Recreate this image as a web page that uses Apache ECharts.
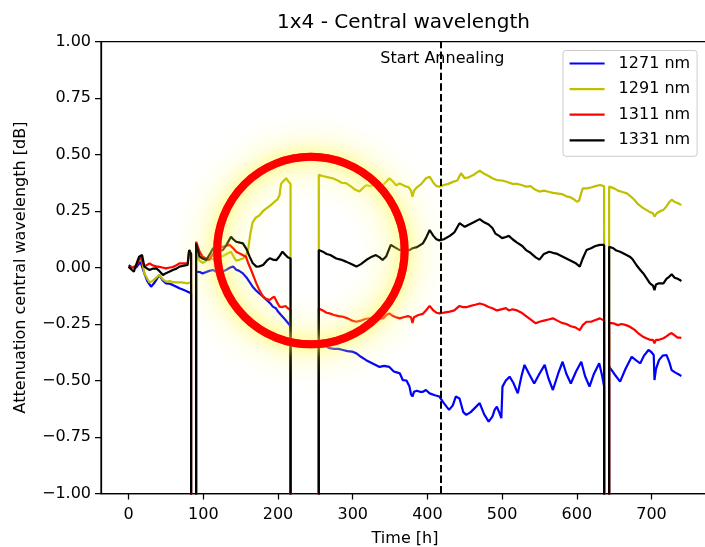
<!DOCTYPE html>
<html>
<head>
<meta charset="utf-8">
<script src="https://cdn.jsdelivr.net/npm/echarts@6/dist/echarts.min.js"></script>
<style>html,body{margin:0;padding:0;background:#fff}#c{width:705px;height:547px}</style>
</head>
<body>
<div id="c"></div>
<script>
const chartTitle = '1x4 - Central wavelength';
const xName = 'Time [h]';
const yName = 'Attenuation central wavelength [dB]';
const seriesNames = ['1271 nm', '1291 nm', '1311 nm', '1331 nm'];
const xTicks = [0, 100, 200, 300, 400, 500, 600, 700];
const annealStart = 418;
const annealLabel = 'Start Annealing';
const annealLabelPos = [420, 0.925];
const highlightCenter = [244, 0.075];
const highlightRadiusH = 125.5;

const s1271 = [[0,0.01],[5,0.0],[10,0.0],[16,0.025],[21,-0.026],[25,-0.06],[30,-0.085],[34,-0.07],[37,-0.055],[41,-0.033],[45,-0.055],[50,-0.07],[55,-0.072],[59,-0.077],[64,-0.085],[68,-0.092],[74,-0.1],[79,-0.107],[83.6,-0.114],[83.6,-1.5],[90.3,-1.5],[90.3,-0.018],[95,-0.02],[99,-0.026],[104,-0.02],[108,-0.015],[113,-0.011],[118,-0.02],[122,-0.015],[126,-0.018],[131,-0.01],[136,0.0],[140,0.004],[144,-0.01],[148,-0.015],[153,-0.026],[158,-0.045],[162,-0.065],[166,-0.085],[170,-0.1],[175,-0.115],[180,-0.129],[185,-0.145],[190,-0.16],[193,-0.173],[197,-0.18],[200,-0.195],[204,-0.21],[208,-0.225],[212,-0.24],[216.8,-0.26],[216.8,-1.5],[254.6,-1.5],[254.6,-0.328],[260,-0.34],[265,-0.35],[269,-0.357],[275,-0.36],[281,-0.36],[287,-0.365],[293,-0.37],[299,-0.372],[305,-0.38],[311,-0.395],[318,-0.41],[324,-0.42],[330,-0.43],[336,-0.44],[342,-0.435],[349,-0.44],[355,-0.46],[360,-0.465],[363,-0.468],[367,-0.498],[372,-0.5],[376,-0.527],[378,-0.56],[380,-0.571],[382,-0.55],[386,-0.545],[390,-0.55],[394,-0.55],[398,-0.542],[403,-0.557],[410,-0.565],[416,-0.571],[422,-0.6],[429,-0.63],[434,-0.61],[438,-0.571],[443,-0.58],[448,-0.64],[452,-0.652],[458,-0.64],[464,-0.62],[470,-0.6],[476,-0.65],[482,-0.682],[487,-0.66],[490,-0.63],[493,-0.616],[496,-0.64],[499,-0.667],[500.5,-0.527],[505,-0.5],[510,-0.483],[515,-0.51],[521,-0.557],[526,-0.48],[530,-0.431],[536,-0.47],[543,-0.513],[550,-0.47],[557,-0.431],[562,-0.49],[568,-0.542],[575,-0.47],[581,-0.417],[586,-0.47],[592,-0.513],[599,-0.46],[606,-0.417],[611,-0.48],[617,-0.527],[623,-0.47],[630,-0.424],[634,-0.48],[636.6,-0.527],[636.6,-1.5],[643.3,-1.5],[643.3,-0.439],[650,-0.47],[658,-0.505],[665,-0.45],[673.5,-0.395],[679,-0.41],[685,-0.424],[690,-0.39],[696,-0.365],[700,-0.375],[703,-0.387],[704,-0.498],[706,-0.45],[710,-0.41],[715,-0.39],[720,-0.387],[724,-0.42],[727,-0.454],[732,-0.465],[738,-0.476],[740,-0.48]];

const s1291 = [[0,0.0],[5,0.0],[10,0.01],[14,0.04],[18,0.03],[21,-0.026],[25,-0.05],[28,-0.066],[32,-0.06],[37,-0.045],[41,-0.033],[45,-0.05],[50,-0.063],[55,-0.06],[60,-0.065],[64,-0.066],[70,-0.066],[75,-0.068],[79,-0.07],[83.6,-0.065],[83.6,-1.5],[90.3,-1.5],[90.3,0.06],[95,0.03],[99,0.02],[104,0.03],[110,0.04],[115,0.035],[120,0.05],[126,0.05],[131,0.06],[137,0.07],[141,0.045],[144,0.03],[149,0.035],[153,0.04],[157,0.05],[160,0.08],[163,0.15],[166,0.2],[170,0.22],[175,0.23],[180,0.25],[184,0.26],[190,0.275],[195,0.29],[199,0.3],[202,0.32],[204,0.37],[208,0.385],[211,0.395],[214,0.38],[216.8,0.37],[216.8,-1.5],[254.6,-1.5],[254.6,0.41],[260,0.405],[266,0.4],[273,0.395],[280,0.385],[285,0.375],[291,0.373],[297,0.36],[303,0.345],[309,0.336],[313,0.35],[318,0.364],[324,0.36],[330,0.37],[336,0.358],[342,0.37],[349,0.395],[354,0.38],[358,0.364],[363,0.372],[370,0.36],[375,0.355],[378,0.34],[380,0.313],[382,0.34],[386,0.355],[392,0.37],[398,0.395],[403,0.402],[408,0.375],[412,0.36],[416,0.358],[422,0.365],[428,0.37],[435,0.38],[440,0.385],[445,0.417],[450,0.395],[456,0.4],[462,0.41],[466,0.42],[470,0.428],[476,0.415],[482,0.405],[487,0.395],[493,0.387],[500,0.385],[507,0.378],[514,0.37],[520,0.37],[526,0.365],[532,0.358],[538,0.36],[544,0.345],[550,0.336],[556,0.34],[562,0.335],[568,0.33],[573,0.328],[580,0.325],[586,0.315],[592,0.31],[597,0.3],[600,0.291],[603,0.295],[606,0.33],[608,0.35],[614,0.35],[620,0.355],[625,0.36],[631,0.365],[636.6,0.36],[636.6,-1.5],[643.3,-1.5],[643.3,0.358],[650,0.35],[655,0.34],[660,0.335],[667,0.328],[672,0.315],[677,0.3],[682,0.28],[688,0.265],[693,0.255],[698,0.245],[702,0.24],[704,0.225],[707,0.24],[712,0.25],[716,0.255],[720,0.27],[724,0.29],[727,0.3],[731,0.29],[735,0.285],[738,0.28],[740,0.277]];

const s1311 = [[0,0.0],[5,0.0],[10,0.005],[16,0.048],[21,0.005],[25,0.012],[28,0.018],[32,0.01],[37,0.005],[41,0.003],[45,0.0],[50,-0.004],[55,0.0],[59,0.002],[64,0.01],[68,0.018],[74,0.018],[79,0.018],[81,0.077],[83.6,0.06],[83.6,-1.5],[90.3,-1.5],[90.3,0.114],[95,0.07],[99,0.048],[104,0.04],[108,0.033],[113,0.06],[117,0.077],[121,0.085],[126,0.092],[130,0.095],[135,0.1],[140,0.085],[144,0.07],[150,0.06],[157,0.048],[160,0.02],[164,-0.011],[168,-0.045],[171,-0.07],[175,-0.1],[180,-0.129],[185,-0.14],[189,-0.144],[192,-0.135],[195,-0.129],[198,-0.15],[202,-0.173],[206,-0.175],[210,-0.17],[213,-0.18],[216.8,-0.188],[216.8,-1.5],[254.6,-1.5],[254.6,-0.181],[260,-0.19],[265,-0.2],[269,-0.203],[275,-0.21],[281,-0.215],[287,-0.218],[293,-0.225],[299,-0.235],[305,-0.24],[311,-0.235],[317,-0.228],[323,-0.225],[330,-0.23],[336,-0.225],[341,-0.225],[345,-0.21],[349,-0.203],[354,-0.215],[358,-0.22],[363,-0.225],[368,-0.22],[374,-0.215],[378,-0.22],[380,-0.245],[382,-0.22],[388,-0.21],[394,-0.205],[398,-0.19],[403,-0.17],[408,-0.19],[412,-0.2],[416,-0.203],[422,-0.2],[430,-0.195],[436,-0.19],[443,-0.17],[447,-0.175],[453,-0.175],[458,-0.17],[464,-0.165],[470,-0.159],[476,-0.165],[482,-0.175],[487,-0.18],[493,-0.19],[499,-0.185],[505,-0.18],[509,-0.19],[514,-0.185],[520,-0.19],[526,-0.2],[532,-0.215],[538,-0.23],[545,-0.247],[550,-0.24],[556,-0.235],[562,-0.23],[568,-0.225],[574,-0.235],[580,-0.245],[586,-0.25],[592,-0.26],[598,-0.265],[604,-0.277],[608,-0.255],[613,-0.24],[619,-0.24],[625,-0.232],[631,-0.225],[636.6,-0.235],[636.6,-1.5],[643.3,-1.5],[643.3,-0.245],[649,-0.247],[655,-0.255],[660,-0.25],[666,-0.255],[671,-0.262],[677,-0.275],[682,-0.29],[688,-0.305],[693,-0.313],[698,-0.32],[702,-0.32],[704,-0.335],[706,-0.32],[710,-0.32],[716,-0.313],[720,-0.305],[724,-0.295],[727,-0.29],[731,-0.3],[735,-0.31],[738,-0.31],[740,-0.312]];

const s1331 = [[0,0.004],[4,-0.01],[7,-0.018],[11,0.02],[14,0.048],[18,0.055],[21,0.004],[25,-0.005],[28,-0.011],[32,-0.005],[37,-0.004],[41,-0.015],[46,-0.033],[50,-0.025],[55,-0.018],[60,-0.01],[64,-0.005],[68,0.004],[74,0.008],[79,0.011],[81,0.077],[83.6,0.06],[83.6,-1.5],[90.3,-1.5],[90.3,0.107],[95,0.048],[99,0.04],[104,0.033],[109,0.06],[113,0.085],[118,0.08],[122,0.075],[126,0.077],[131,0.1],[137,0.136],[140,0.125],[144,0.114],[149,0.11],[153,0.107],[158,0.08],[162,0.048],[166,0.02],[171,0.004],[175,0.005],[180,0.011],[185,0.03],[189,0.041],[193,0.035],[198,0.033],[202,0.05],[206,0.07],[210,0.055],[213,0.045],[216.8,0.04],[216.8,-1.5],[254.6,-1.5],[254.6,0.077],[260,0.07],[265,0.06],[270,0.055],[278,0.04],[284,0.035],[291,0.026],[298,0.015],[305,0.004],[311,0.015],[318,0.033],[324,0.045],[331,0.055],[336,0.045],[340,0.033],[345,0.05],[351,0.1],[356,0.09],[363,0.077],[370,0.08],[376,0.077],[380,0.085],[386,0.09],[394,0.107],[398,0.13],[403,0.166],[408,0.14],[412,0.125],[416,0.12],[422,0.125],[430,0.14],[436,0.155],[443,0.196],[450,0.18],[456,0.19],[462,0.2],[470,0.214],[476,0.2],[482,0.19],[487,0.175],[491,0.15],[496,0.14],[500,0.13],[505,0.135],[509,0.14],[514,0.125],[520,0.11],[527,0.095],[532,0.077],[538,0.065],[545,0.045],[550,0.035],[556,0.06],[563,0.07],[568,0.065],[574,0.06],[580,0.05],[586,0.04],[592,0.03],[598,0.02],[604,0.004],[608,0.04],[613,0.077],[619,0.085],[625,0.095],[631,0.1],[636.6,0.1],[636.6,-1.5],[643.3,-1.5],[643.3,0.092],[649,0.085],[653,0.075],[658,0.07],[664,0.06],[671,0.048],[675,0.035],[680,0.01],[685,-0.011],[690,-0.03],[694,-0.05],[698,-0.07],[702,-0.08],[704,-0.1],[706,-0.075],[710,-0.07],[716,-0.07],[720,-0.05],[724,-0.04],[727,-0.03],[731,-0.045],[735,-0.05],[738,-0.055],[740,-0.06]];

const seriesData = [s1271, s1291, s1311, s1331];
const seriesColors = ['#0000ff', '#bfbf00', '#ff0000', '#000000'];

const FONT = 'DejaVu Sans';
const chart = echarts.init(document.getElementById('c'), null, {renderer: 'canvas'});

const series = seriesNames.map((name, i) => ({
  name: name,
  type: 'line',
  data: seriesData[i],
  showSymbol: false,
  symbol: 'none',
  clip: true,
  lineStyle: {color: seriesColors[i], width: 2.2},
  itemStyle: {color: seriesColors[i]},
  z: 2 + i,
  silent: true
}));

series[3].markLine = {
  silent: true,
  symbol: ['none', 'none'],
  label: {show: false},
  lineStyle: {color: '#000', type: [7.4, 3.2], width: 2},
  data: [{xAxis: annealStart}]
};
series[3].markPoint = {
  silent: true,
  symbol: 'circle',
  symbolSize: 0,
  data: [{
    coord: annealLabelPos,
    label: {show: true, position: 'inside', formatter: annealLabel, color: '#000', fontSize: 16, fontFamily: FONT}
  }]
};

const fmtY = v => (v < 0 ? '\u2212' : '') + Math.abs(v).toFixed(2);

const titleGraphic = {
  type: 'text', left: 405 - 128, top: 13,
  style: {text: chartTitle, fill: '#000', fontSize: 20, fontFamily: FONT}
};

chart.setOption({
  animation: false,
  backgroundColor: '#fff',
  grid: {left: 101, top: 41.5, width: 608, height: 452, show: true, borderColor: '#000', borderWidth: 1.25, backgroundColor: 'transparent', containLabel: false, outerBoundsMode: 'none'},
  xAxis: {
    type: 'value', min: -37, max: 777,
    name: xName, nameLocation: 'middle', nameGap: 37,
    nameTextStyle: {color: '#000', fontSize: 16, fontFamily: FONT},
    axisLine: {show: true, onZero: false, lineStyle: {color: '#000', width: 1.25}},
    axisTick: {show: true, inside: false, length: 6, customValues: xTicks, lineStyle: {color: '#000', width: 1.25}},
    axisLabel: {show: true, customValues: xTicks, margin: 13, color: '#000', fontSize: 16, fontFamily: FONT},
    splitLine: {show: false}
  },
  yAxis: {
    type: 'value', min: -1, max: 1, interval: 0.25,
    name: yName, nameLocation: 'middle', nameGap: 72, nameRotate: 90,
    nameTextStyle: {color: '#000', fontSize: 16, fontFamily: FONT},
    axisLine: {show: true, onZero: false, lineStyle: {color: '#000', width: 1.25}},
    axisTick: {show: true, inside: false, length: 6, lineStyle: {color: '#000', width: 1.25}},
    axisLabel: {show: true, margin: 10, color: '#000', fontSize: 16, fontFamily: FONT, formatter: fmtY},
    splitLine: {show: false}
  },
  legend: {
    orient: 'vertical', left: 563, top: 50.5,
    data: seriesNames,
    itemWidth: 35, itemHeight: 16, itemGap: 9.6,
    padding: [5, 7, 8, 5.5],
    itemStyle: {opacity: 0},
    lineStyle: {width: 2.2},
    backgroundColor: 'rgba(255,255,255,0.8)', borderColor: '#cccccc', borderWidth: 1, borderRadius: 3,
    textStyle: {color: '#000', fontSize: 16, fontFamily: FONT, padding: [0, 0, 0, 9]},
    selectedMode: false
  },
  graphic: [titleGraphic],
  series: series
});

// highlight circle placed in data coordinates
const c = chart.convertToPixel({gridIndex: 0}, highlightCenter);
const e = chart.convertToPixel({gridIndex: 0}, [highlightCenter[0] + highlightRadiusH, highlightCenter[1]]);
const r = e[0] - c[0];
const ring = (blur, color) => ({
  type: 'circle', z: 100, silent: true,
  shape: {cx: c[0], cy: c[1], r: r},
  style: {fill: null, stroke: '#ff0000', lineWidth: 8, shadowBlur: blur, shadowColor: color}
});
chart.setOption({
  graphic: [titleGraphic, ring(36, 'rgba(255,245,0,1)'), ring(14, 'rgba(255,250,110,0.9)')]
});
</script>
</body>
</html>
